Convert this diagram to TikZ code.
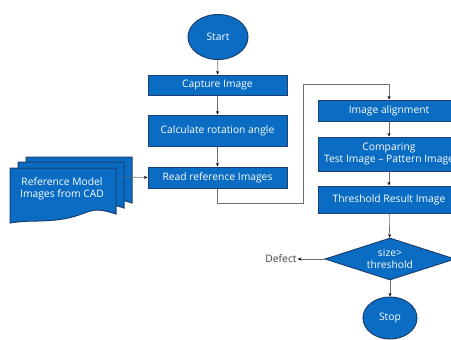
\documentclass[tikz,border=0pt]{standalone}
\usepackage{fontspec}
\setmainfont{Open Sans}
\usetikzlibrary{shapes.geometric,arrows.meta}
\definecolor{boxblue}{HTML}{0A6CC2}
\definecolor{boxedge}{HTML}{1B3F73}
\definecolor{linegray}{HTML}{6E6E6E}
\tikzset{
  lbl/.style={font=\fontsize{10.3}{11.5}\selectfont},
  proc/.style={lbl, draw=boxedge, line width=1pt, fill=boxblue, text=white, align=center, inner sep=0pt, minimum width=139pt},
  procr/.style={proc, minimum width=142pt},
  term/.style={lbl, ellipse, draw=boxedge, line width=1pt, fill=boxblue, text=white, inner sep=0pt},
  dec/.style={lbl, diamond, draw=boxedge, line width=1pt, fill=boxblue, text=white, align=center, inner sep=0pt, aspect=3.1},
  conn/.style={draw=linegray, line width=0.6pt, -{Stealth[length=3.5pt,width=3pt,color=black]}},
  docsheet/.style={draw=boxedge, line width=1pt, fill=boxblue},
}
\newcommand{\docpath}[2]{%
  \path[docsheet] (#1,#2) -- ++(106,0) -- ++(0,46) .. controls ++(-30,-10) and ++(35,-4) .. ++(-60,6) .. controls ++(-22,2) and ++(20,-3) .. ++(-46,3) -- cycle;
}
\begin{document}
\begin{tikzpicture}[x=1pt,y=-1pt]
\useasboundingbox (0,0) rectangle (451,340);
% document stack
\docpath{26}{157}
\docpath{18}{162}
\docpath{10}{168}
\node[lbl, text=white, align=center] (ref) at (62,189) {Reference Model\\Images from CAD};
\coordinate (refout) at (123,177);
% left column
\node[term, minimum width=60pt, minimum height=45pt] (start) at (218,37) {Start};
\node[proc, minimum height=20pt] (capture) at (217.5,85) {Capture Image};
\node[proc, minimum height=31pt] (calc) at (217.5,130.5) {Calculate rotation angle};
\node[proc, minimum height=21pt] (read) at (217.5,177.5) {Read reference Images};
% right column
\node[procr, minimum height=21pt] (align) at (389,110.5) {Image alignment};
\node[procr, minimum height=34pt] (comp) at (389,154) {Comparing\\Test Image -- Pattern Image};
\node[procr, minimum height=27pt] (thr) at (389,199.5) {Threshold Result Image};
\node[dec, minimum width=130pt, minimum height=42pt] (size) at (390,259) {size>\\threshold};
\node[term, minimum width=54pt, minimum height=42pt] (stop) at (390,318) {Stop};
\node[lbl, text=black!75, inner sep=1pt] (defect) at (281,259) {Defect};
% connectors
\coordinate (c1) at (303,203);
\coordinate (c2) at (303,84);
\draw[conn] (start) -- (capture);
\draw[conn] (capture) -- (calc);
\draw[conn] (calc) -- (read);
\draw[conn] (refout) -- (read.west);
\draw[conn] (read.south) |- (c1) -- (c2) -| (align.north);
\draw[conn] (align) -- (comp);
\draw[conn] (comp) -- (thr);
\draw[conn] (thr) -- (size);
\draw[conn] (size) -- (stop);
\draw[conn] (size.west) -- (defect.east);
\end{tikzpicture}
\end{document}
